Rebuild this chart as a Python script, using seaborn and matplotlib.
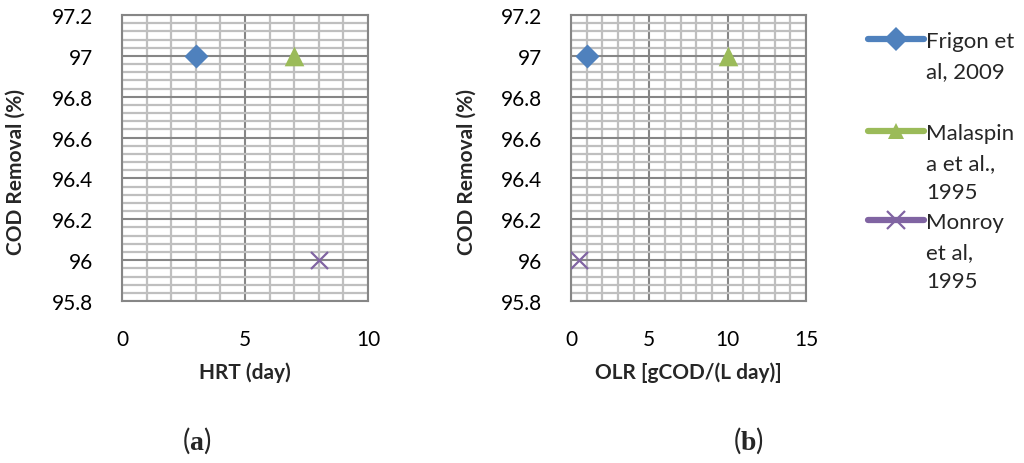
import numpy as np
import pandas as pd
import seaborn as sns
import matplotlib.pyplot as plt
from matplotlib.ticker import MultipleLocator, FixedLocator, FixedFormatter
from matplotlib.lines import Line2D

# data
studies = ["Frigon et\nal, 2009", "Malaspin\na et al.,\n1995", "Monroy\net al,\n1995"]
hrt_day = [3, 7, 8]
olr_gcod = [1, 10, 0.5]
cod_removal = [97, 97, 96]

colors = ["#4F81BD", "#9BBB59", "#8064A2"]
markers = ["D", "^", "x"]
sizes = [150, 200, 150]

yticks = [95.8, 96.0, 96.2, 96.4, 96.6, 96.8, 97.0, 97.2]
ytick_labels = [f"{v:g}" for v in yticks]

df = pd.DataFrame({"study": studies, "hrt": hrt_day, "olr": olr_gcod, "cod": cod_removal})

sns.set_style("white")
plt.rcParams["font.family"] = ["Lato", "DejaVu Sans"]
plt.rcParams["mathtext.fontset"] = "custom"
plt.rcParams["mathtext.rm"] = "Liberation Serif"
plt.rcParams["mathtext.bf"] = "Liberation Serif:bold"

fig = plt.figure(figsize=(10.24, 4.64), dpi=100)
ax1 = fig.add_axes([0.1191, 0.3491, 0.2402, 0.6164])
ax2 = fig.add_axes([0.5576, 0.3491, 0.2295, 0.6164])

major_c = "#868686"
minor_c = "#BFBFBF"


def draw_panel(ax, xcol, xmax, xlabel, ylab_x):
    for i in range(len(df)):
        sub = df.iloc[[i]]
        kw = dict(linewidth=0) if markers[i] != "x" else dict(linewidth=1.6)
        sns.scatterplot(data=sub, x=xcol, y="cod", ax=ax, color=colors[i],
                        marker=markers[i], s=sizes[i], zorder=5, legend=False, **kw)
    ax.set_xlim(0, xmax)
    ax.set_ylim(95.8, 97.2)
    ax.xaxis.set_major_locator(MultipleLocator(5))
    ax.xaxis.set_minor_locator(MultipleLocator(1))
    ax.yaxis.set_major_locator(FixedLocator(yticks))
    ax.yaxis.set_major_formatter(FixedFormatter(ytick_labels))
    ax.yaxis.set_minor_locator(MultipleLocator(0.04))
    ax.grid(which="minor", color=minor_c, linewidth=1.6, zorder=0)
    ax.grid(which="major", color=major_c, linewidth=1.5, zorder=1)
    ax.set_axisbelow(True)
    for sp in ax.spines.values():
        sp.set_color(major_c)
        sp.set_linewidth(1.5)
    ax.tick_params(which="major", direction="out", length=8, width=1.5,
                   color=major_c, labelsize=15, pad=13, labelcolor="black")
    ax.tick_params(which="minor", length=0)
    ax.tick_params(axis="x", pad=12)
    ax.set_xlabel(xlabel, fontsize=15, fontweight="bold", labelpad=9)
    ax.set_ylabel("COD Removal (%)", fontsize=15, fontweight="bold")
    ax.yaxis.set_label_coords(ylab_x, 0.455)


draw_panel(ax1, "hrt", 10, "HRT (day)", -0.39)
draw_panel(ax2, "olr", 15, "OLR [gCOD/(L day)]", -0.40)

fig.text(197 / 1024, 1 - 441 / 464, r"($\mathbf{a}$)", fontsize=20, ha="center", va="center")
fig.text(748 / 1024, 1 - 441 / 464, r"($\mathbf{b}$)", fontsize=20, ha="center", va="center")

# one legend per entry so each can sit where the reference has it
legend_tops = [32, 124, 213]
for c, m, lab, top in zip(colors, markers, studies, legend_tops):
    h = Line2D([], [], color=c, marker=m, lw=4.5, markersize=12 if m != "x" else 13,
               markeredgewidth=1.6 if m == "x" else 0)
    leg = fig.legend([h], [lab], loc="upper left", bbox_to_anchor=(868 / 1024, 1 - top / 464),
                     frameon=False, fontsize=16, handlelength=2.5, handletextpad=0.1,
                     borderaxespad=0, borderpad=0)
    for txt in leg.get_texts():
        txt.set_linespacing(1.6)
    for col in leg._legend_handle_box.get_children():
        for row in col.get_children():
            row.align = "top"

fig.savefig("out.png", dpi=100)
